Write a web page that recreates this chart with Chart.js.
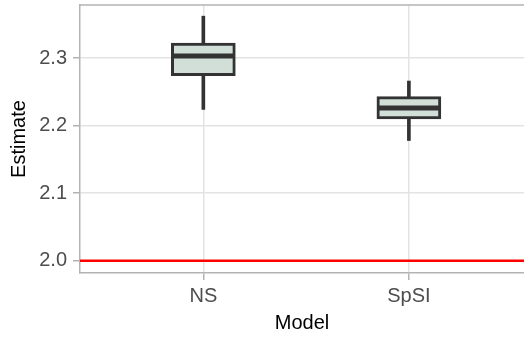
<!DOCTYPE html>
<html>
<head>
<meta charset="utf-8">
<script src="https://cdn.jsdelivr.net/npm/chart.js@4.4.1/dist/chart.umd.min.js"></script>
<style>
  html, body { margin: 0; padding: 0; background: #fff; }
  #wrap { width: 524px; height: 338px; }
</style>
</head>
<body>
<div id="wrap"><canvas id="chart"></canvas></div>
<script>
// Data
const categories = ['NS', 'SpSI'];
const whiskerLow = [2.224, 2.178];
const boxLow = [2.274, 2.210];
const medians = [2.303, 2.226];
const boxHigh = [2.322, 2.243];
const whiskerHigh = [2.362, 2.266];
const yTicks = [2.0, 2.1, 2.2, 2.3];
const refLine = 2.0;

const FONT = "'Liberation Sans', Arial, sans-serif";
const DARK = '#333333';
const GRID = '#e3e3e3';
const FRAME = '#b3b3b3';

const xs = categories.map((c, i) => i + 1);

// panel frame top, median lines and the red reference line
const extrasPlugin = {
    id: 'extras',
    beforeDatasetsDraw(chart) {
        const { ctx, chartArea } = chart;
        ctx.save();
        ctx.strokeStyle = FRAME;
        ctx.lineWidth = 1.5;
        ctx.beginPath();
        ctx.moveTo(chartArea.left, chartArea.top);
        ctx.lineTo(chartArea.right + 2, chartArea.top);
        ctx.stroke();
        ctx.restore();
    },
    afterDatasetsDraw(chart) {
        const { ctx, chartArea, scales } = chart;
        const meta = chart.getDatasetMeta(0);
        ctx.save();
        ctx.strokeStyle = DARK;
        ctx.lineWidth = 5;
        meta.data.forEach((bar, i) => {
            const y = scales.y.getPixelForValue(medians[i]);
            ctx.beginPath();
            ctx.moveTo(bar.x - bar.width / 2 + 1, y);
            ctx.lineTo(bar.x + bar.width / 2 - 1, y);
            ctx.stroke();
        });
        const ry = scales.y.getPixelForValue(refLine);
        ctx.strokeStyle = '#ff0000';
        ctx.lineWidth = 2.5;
        ctx.beginPath();
        ctx.moveTo(chartArea.left, ry);
        ctx.lineTo(chartArea.right, ry);
        ctx.stroke();
        ctx.restore();
    }
};

new Chart(document.getElementById('chart'), {
    type: 'bar',
    data: {
        datasets: [
            {
                label: 'box',
                data: xs.map((x, i) => ({ x: x, y: [boxLow[i], boxHigh[i]] })),
                backgroundColor: '#d2dfd8',
                borderColor: DARK,
                borderWidth: 3,
                borderSkipped: false,
                barThickness: 64,
                grouped: false,
                order: 0
            },
            {
                label: 'whisker',
                data: xs.map((x, i) => ({ x: x, y: [whiskerLow[i], whiskerHigh[i]] })),
                backgroundColor: DARK,
                borderWidth: 0,
                barThickness: 3,
                grouped: false,
                order: 1
            }
        ]
    },
    options: {
        responsive: true,
        maintainAspectRatio: false,
        animation: false,
        layout: { padding: { top: 5, left: 0, right: 0, bottom: 0 } },
        plugins: {
            legend: { display: false },
            tooltip: { enabled: false }
        },
        scales: {
            x: {
                type: 'linear',
                offset: false,
                min: 0.4,
                max: 2.56,
                afterBuildTicks: s => { s.ticks = xs.map(v => ({ value: v })); },
                afterFit: s => { s.height = 65; s.paddingLeft = 0; s.paddingRight = 0; },
                grid: { offset: false, color: GRID, lineWidth: 1.5, tickLength: 7, tickColor: FRAME, tickWidth: 1.5 },
                border: { display: true, color: FRAME, width: 1.5 },
                ticks: {
                    color: '#4d4d4d',
                    font: { family: FONT, size: 20 },
                    padding: 4,
                    maxRotation: 0,
                    callback: v => categories[v - 1]
                },
                title: {
                    display: true,
                    text: 'Model',
                    color: '#000',
                    font: { family: FONT, size: 20 },
                    padding: { top: 0, bottom: 3 }
                }
            },
            y: {
                min: 1.982,
                max: 2.3785,
                afterBuildTicks: s => { s.ticks = yTicks.map(v => ({ value: v })); },
                afterFit: s => { s.width = 80; s.paddingTop = 0; s.paddingBottom = 0; },
                grid: { color: GRID, lineWidth: 1.5, tickLength: 7, tickColor: FRAME, tickWidth: 1.5 },
                border: { display: true, color: FRAME, width: 1.5 },
                ticks: {
                    color: '#4d4d4d',
                    font: { family: FONT, size: 20 },
                    padding: 6,
                    callback: v => v.toFixed(1)
                },
                title: {
                    display: true,
                    text: 'Estimate',
                    color: '#000',
                    font: { family: FONT, size: 20 },
                    padding: { top: 7, bottom: 0 }
                }
            }
        }
    },
    plugins: [extrasPlugin]
});
</script>
</body>
</html>
